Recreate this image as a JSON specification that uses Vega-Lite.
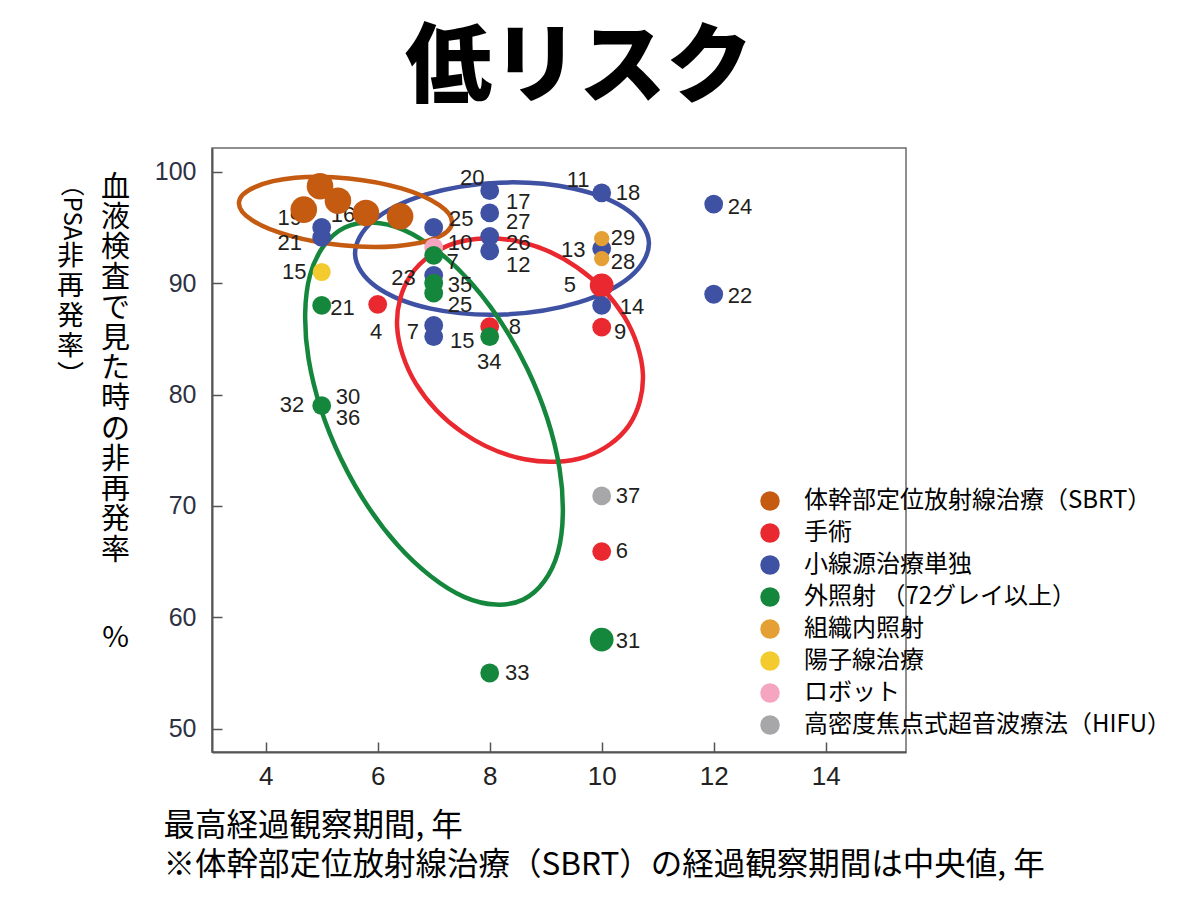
{
  "$schema": "https://vega.github.io/schema/vega-lite/v6.json",
  "width": 694,
  "height": 604,
  "autosize": "none",
  "padding": {"left": 212, "top": 148, "right": 287, "bottom": 172},
  "background": "white",
  "config": {
    "view": {"stroke": "#6b6b6b", "strokeWidth": 1.5},
    "font": "Noto Sans CJK JP"
  },
  "title": {
    "text": "低リスク",
    "font": "Noto Sans CJK JP",
    "fontSize": 87,
    "fontWeight": 900,
    "color": "#000000",
    "anchor": "middle",
    "frame": "group",
    "dx": 20,
    "dy": 21,
    "offset": 12,
    "baseline": "middle"
  },
  "datasets": {
    "points": [
      {"category": "手術", "x": 6.0, "y": 88.1, "n": 1.5},
      {"category": "手術", "x": 8.0, "y": 86.1, "n": 1.5},
      {"category": "手術", "x": 10.0, "y": 89.8, "n": 2.4},
      {"category": "手術", "x": 10.0, "y": 86.05, "n": 1.5},
      {"category": "手術", "x": 10.0, "y": 65.9, "n": 1.5},
      {"category": "小線源治療単独", "x": 5.0, "y": 95.0, "n": 1.5},
      {"category": "小線源治療単独", "x": 5.0, "y": 94.1, "n": 1.5},
      {"category": "小線源治療単独", "x": 5.8, "y": 96.3, "n": 1.5},
      {"category": "小線源治療単独", "x": 7.0, "y": 95.0, "n": 1.5},
      {"category": "小線源治療単独", "x": 7.0, "y": 90.7, "n": 1.5},
      {"category": "小線源治療単独", "x": 7.0, "y": 86.2, "n": 1.5},
      {"category": "小線源治療単独", "x": 7.0, "y": 85.2, "n": 1.5},
      {"category": "小線源治療単独", "x": 8.0, "y": 98.3, "n": 1.5},
      {"category": "小線源治療単独", "x": 8.0, "y": 96.3, "n": 1.5},
      {"category": "小線源治療単独", "x": 8.0, "y": 94.2, "n": 1.5},
      {"category": "小線源治療単独", "x": 8.0, "y": 92.9, "n": 1.5},
      {"category": "小線源治療単独", "x": 10.0, "y": 98.1, "n": 1.5},
      {"category": "小線源治療単独", "x": 10.0, "y": 93.1, "n": 1.5},
      {"category": "小線源治療単独", "x": 10.0, "y": 88.0, "n": 1.5},
      {"category": "小線源治療単独", "x": 12.0, "y": 97.1, "n": 1.5},
      {"category": "小線源治療単独", "x": 12.0, "y": 89.0, "n": 1.5},
      {"category": "ロボット", "x": 7.0, "y": 93.2, "n": 1.5},
      {"category": "高密度焦点式超音波療法（HIFU）", "x": 10.0, "y": 70.9, "n": 1.5},
      {"category": "陽子線治療", "x": 5.0, "y": 91.0, "n": 1.4},
      {"category": "外照射 （72グレイ以上）", "x": 7.0, "y": 92.5, "n": 1.5},
      {"category": "外照射 （72グレイ以上）", "x": 7.0, "y": 90.0, "n": 1.5},
      {"category": "外照射 （72グレイ以上）", "x": 7.0, "y": 89.1, "n": 1.5},
      {"category": "外照射 （72グレイ以上）", "x": 5.0, "y": 88.0, "n": 1.5},
      {"category": "外照射 （72グレイ以上）", "x": 8.0, "y": 85.2, "n": 1.5},
      {"category": "外照射 （72グレイ以上）", "x": 5.0, "y": 79.0, "n": 1.5},
      {"category": "外照射 （72グレイ以上）", "x": 10.0, "y": 58.0, "n": 2.4},
      {"category": "外照射 （72グレイ以上）", "x": 8.0, "y": 55.0, "n": 1.5},
      {"category": "組織内照射", "x": 10.0, "y": 94.0, "n": 1.0},
      {"category": "組織内照射", "x": 10.0, "y": 92.2, "n": 1.0},
      {"category": "体幹部定位放射線治療（SBRT）", "x": 4.97, "y": 98.7, "n": 3},
      {"category": "体幹部定位放射線治療（SBRT）", "x": 4.68, "y": 96.6, "n": 3},
      {"category": "体幹部定位放射線治療（SBRT）", "x": 5.29, "y": 97.4, "n": 3},
      {"category": "体幹部定位放射線治療（SBRT）", "x": 5.79, "y": 96.3, "n": 3},
      {"category": "体幹部定位放射線治療（SBRT）", "x": 6.40, "y": 96.0, "n": 3}
    ],
    "ellipses": [
      {"group": "小線源治療単独", "i": 0, "x": 10.843, "y": 93.64},
      {"group": "小線源治療単独", "i": 1, "x": 10.514, "y": 90.60},
      {"group": "小線源治療単独", "i": 2, "x": 9.573, "y": 88.25},
      {"group": "小線源治療単独", "i": 3, "x": 8.268, "y": 87.19},
      {"group": "小線源治療単独", "i": 4, "x": 6.948, "y": 87.71},
      {"group": "小線源治療単独", "i": 5, "x": 5.971, "y": 89.69},
      {"group": "小線源治療単独", "i": 6, "x": 5.596, "y": 92.58},
      {"group": "小線源治療単独", "i": 7, "x": 5.925, "y": 95.61},
      {"group": "小線源治療単独", "i": 8, "x": 6.866, "y": 97.96},
      {"group": "小線源治療単独", "i": 9, "x": 8.171, "y": 99.02},
      {"group": "小線源治療単独", "i": 10, "x": 9.491, "y": 98.49},
      {"group": "小線源治療単独", "i": 11, "x": 10.468, "y": 96.53},
      {"group": "手術", "i": 0, "x": 10.484, "y": 77.21},
      {"group": "手術", "i": 1, "x": 9.711, "y": 74.41},
      {"group": "手術", "i": 2, "x": 8.625, "y": 74.19},
      {"group": "手術", "i": 3, "x": 7.516, "y": 76.59},
      {"group": "手術", "i": 4, "x": 6.682, "y": 80.98},
      {"group": "手術", "i": 5, "x": 6.346, "y": 86.17},
      {"group": "手術", "i": 6, "x": 6.598, "y": 90.78},
      {"group": "手術", "i": 7, "x": 7.371, "y": 93.58},
      {"group": "手術", "i": 8, "x": 8.457, "y": 93.80},
      {"group": "手術", "i": 9, "x": 9.566, "y": 91.40},
      {"group": "手術", "i": 10, "x": 10.400, "y": 87.01},
      {"group": "手術", "i": 11, "x": 10.736, "y": 81.82},
      {"group": "外照射", "i": 0, "x": 8.598, "y": 61.59},
      {"group": "外照射", "i": 1, "x": 7.550, "y": 61.81},
      {"group": "外照射", "i": 2, "x": 6.359, "y": 66.46},
      {"group": "外照射", "i": 3, "x": 5.339, "y": 74.28},
      {"group": "外照射", "i": 4, "x": 4.766, "y": 83.18},
      {"group": "外照射", "i": 5, "x": 4.793, "y": 90.75},
      {"group": "外照射", "i": 6, "x": 5.413, "y": 95.00},
      {"group": "外照射", "i": 7, "x": 6.461, "y": 94.78},
      {"group": "外照射", "i": 8, "x": 7.652, "y": 90.13},
      {"group": "外照射", "i": 9, "x": 8.671, "y": 82.31},
      {"group": "外照射", "i": 10, "x": 9.245, "y": 73.41},
      {"group": "外照射", "i": 11, "x": 9.218, "y": 65.83},
      {"group": "SBRT", "i": 0, "x": 7.327, "y": 95.40},
      {"group": "SBRT", "i": 1, "x": 7.043, "y": 94.06},
      {"group": "SBRT", "i": 2, "x": 6.325, "y": 93.32},
      {"group": "SBRT", "i": 3, "x": 5.368, "y": 93.39},
      {"group": "SBRT", "i": 4, "x": 4.425, "y": 94.26},
      {"group": "SBRT", "i": 5, "x": 3.750, "y": 95.67},
      {"group": "SBRT", "i": 6, "x": 3.523, "y": 97.27},
      {"group": "SBRT", "i": 7, "x": 3.807, "y": 98.62},
      {"group": "SBRT", "i": 8, "x": 4.525, "y": 99.45},
      {"group": "SBRT", "i": 9, "x": 5.482, "y": 99.40},
      {"group": "SBRT", "i": 10, "x": 6.425, "y": 98.50},
      {"group": "SBRT", "i": 11, "x": 7.100, "y": 97.00}
    ],
    "labels": [
      {"text": "19", "x": 4.43, "y": 95.84},
      {"text": "21", "x": 4.43, "y": 93.6},
      {"text": "16", "x": 5.38, "y": 96.1},
      {"text": "25", "x": 7.49, "y": 95.74},
      {"text": "10", "x": 7.47, "y": 93.6},
      {"text": "7", "x": 7.34, "y": 91.9},
      {"text": "23", "x": 6.46, "y": 90.46},
      {"text": "35", "x": 7.47, "y": 89.83},
      {"text": "25", "x": 7.47, "y": 88.04},
      {"text": "15", "x": 4.51, "y": 91.0},
      {"text": "21", "x": 5.37, "y": 87.8},
      {"text": "4", "x": 5.97, "y": 85.6},
      {"text": "7", "x": 6.63, "y": 85.6},
      {"text": "15", "x": 7.51, "y": 84.8},
      {"text": "8", "x": 8.45, "y": 86.05},
      {"text": "34", "x": 7.99, "y": 82.9},
      {"text": "32", "x": 4.47, "y": 79.1},
      {"text": "30", "x": 5.47, "y": 79.8},
      {"text": "36", "x": 5.47, "y": 77.9},
      {"text": "20", "x": 7.69, "y": 99.43},
      {"text": "17", "x": 8.51, "y": 97.3},
      {"text": "27", "x": 8.51, "y": 95.5},
      {"text": "26", "x": 8.51, "y": 93.6},
      {"text": "12", "x": 8.51, "y": 91.6},
      {"text": "11", "x": 9.58, "y": 99.25},
      {"text": "18", "x": 10.47, "y": 98.1},
      {"text": "13", "x": 9.49, "y": 92.97},
      {"text": "29", "x": 10.38, "y": 94.05},
      {"text": "28", "x": 10.38, "y": 91.9},
      {"text": "5", "x": 9.43, "y": 89.83},
      {"text": "14", "x": 10.54, "y": 87.85},
      {"text": "9", "x": 10.33, "y": 85.6},
      {"text": "24", "x": 12.47, "y": 96.8},
      {"text": "22", "x": 12.47, "y": 88.83},
      {"text": "37", "x": 10.47, "y": 70.9},
      {"text": "6", "x": 10.36, "y": 65.95},
      {"text": "31", "x": 10.47, "y": 57.9},
      {"text": "33", "x": 8.49, "y": 55.0}
    ]
  },
  "layer": [
    {
      "data": {"name": "ellipses"},
      "mark": {"type": "line", "interpolate": "cardinal-closed", "strokeWidth": 4.5},
      "encoding": {
        "x": {
          "field": "x", "type": "quantitative",
          "scale": {"domain": [3.041, 15.434], "nice": false, "zero": false},
          "axis": {
            "orient": "bottom",
            "values": [4, 6, 8, 10, 12, 14],
            "format": "d",
            "grid": false,
            "domainColor": "#555555", "domainWidth": 2,
            "tickColor": "#555555", "tickWidth": 1.5, "tickSize": -10,
            "labelPadding": 21,
            "labelFont": "Liberation Sans Narrow, Liberation Sans",
            "labelFontSize": 26, "labelColor": "#222222",
            "title": ["最高経過観察期間, 年", "※体幹部定位放射線治療（SBRT）の経過観察期間は中央値, 年"],
            "titleX": -49, "titleY": 58,
            "titleAlign": "left", "titleBaseline": "top",
            "titleFont": "Noto Sans CJK JP", "titleFontSize": 31.5, "titleFontWeight": "normal",
            "titleLineHeight": 39, "titleColor": "#000000"
          }
        },
        "y": {
          "field": "y", "type": "quantitative",
          "scale": {"domain": [47.91, 102.13], "nice": false, "zero": false},
          "axis": {
            "orient": "left",
            "values": [50, 60, 70, 80, 90, 100],
            "grid": false,
            "domainColor": "#555555", "domainWidth": 2,
            "tickColor": "#555555", "tickWidth": 1.5, "tickSize": -10,
            "labelPadding": 26,
            "labelFont": "Liberation Sans", "labelFontSize": 25, "labelColor": "#2d3142",
            "title": ["血", "液", "検", "査", "で", "見", "た", "時", "の", "非", "再", "発", "率"],
            "titleX": -97, "titleY": 25, "titleAngle": 0,
            "titleAlign": "center", "titleBaseline": "top",
            "titleFont": "Noto Sans CJK JP", "titleFontSize": 29, "titleFontWeight": "normal",
            "titleLineHeight": 30.25, "titleColor": "#000000"
          }
        },
        "stroke": {
          "field": "group", "type": "nominal",
          "scale": {
            "domain": ["SBRT", "手術", "小線源治療単独", "外照射"],
            "range": ["#c55a11", "#e9282f", "#3f51a3", "#15873d"]
          },
          "legend": null
        },
        "detail": {"field": "group"},
        "order": {"field": "i", "type": "quantitative"}
      }
    },
    {
      "data": {"name": "points"},
      "transform": [{"filter": "datum.category !== '体幹部定位放射線治療（SBRT）'"}],
      "mark": {"type": "circle", "opacity": 1},
      "encoding": {
        "x": {"field": "x", "type": "quantitative"},
        "y": {
          "field": "y", "type": "quantitative",
          "axis": {
            "orient": "left", "labels": false, "ticks": false, "domain": false, "grid": false,
            "title": "（PSA",
            "titleX": -142, "titleY": 58, "titleAngle": 90,
            "titleAlign": "center", "titleBaseline": "middle",
            "titleFont": "Noto Sans CJK JP", "titleFontSize": 24, "titleFontWeight": "normal",
            "titleColor": "#000000"
          }
        },
        "color": {
          "field": "category", "type": "nominal",
          "scale": {
            "domain": ["体幹部定位放射線治療（SBRT）", "手術", "小線源治療単独", "外照射 （72グレイ以上）", "組織内照射", "陽子線治療", "ロボット", "高密度焦点式超音波療法（HIFU）"],
            "range": ["#c55a11", "#e9282f", "#3f51a3", "#15873d", "#e5a035", "#f3cb2e", "#f5a5bf", "#a7a7aa"]
          },
          "legend": {
            "orient": "none", "legendX": 546, "legendY": 341,
            "title": null, "padding": 0,
            "symbolType": "circle", "symbolSize": 380, "symbolStrokeWidth": 0, "symbolOpacity": 1,
            "labelFont": "Noto Sans CJK JP", "labelFontSize": 24, "labelColor": "#000000",
            "labelOffset": 22, "rowPadding": 8, "labelLimit": 600
          }
        },
        "size": {
          "field": "n", "type": "quantitative",
          "scale": {"domain": [0, 3], "range": [0, 707]},
          "legend": null
        }
      }
    },
    {
      "data": {"name": "labels"},
      "mark": {"type": "text", "font": "Liberation Sans", "fontSize": 22, "color": "#231f20", "align": "center", "baseline": "middle"},
      "encoding": {
        "x": {"field": "x", "type": "quantitative"},
        "y": {
          "field": "y", "type": "quantitative",
          "axis": {
            "orient": "left", "labels": false, "ticks": false, "domain": false, "grid": false,
            "title": ["非", "再", "発", "率", "︶"],
            "titleX": -142, "titleY": 95, "titleAngle": 0,
            "titleAlign": "center", "titleBaseline": "top",
            "titleFont": "Noto Sans CJK JP", "titleFontSize": 27, "titleFontWeight": "normal",
            "titleLineHeight": 30, "titleColor": "#000000"
          }
        },
        "text": {"field": "text"}
      }
    },
    {
      "data": {"name": "points"},
      "transform": [{"filter": "datum.category === '体幹部定位放射線治療（SBRT）'"}],
      "mark": {"type": "circle", "opacity": 1},
      "encoding": {
        "x": {"field": "x", "type": "quantitative"},
        "y": {
          "field": "y", "type": "quantitative",
          "axis": {
            "orient": "left", "labels": false, "ticks": false, "domain": false, "grid": false,
            "title": "%",
            "titleX": -97, "titleY": 489, "titleAngle": 0,
            "titleAlign": "center", "titleBaseline": "middle",
            "titleFont": "Noto Sans CJK JP", "titleFontSize": 29, "titleFontWeight": "normal",
            "titleColor": "#000000"
          }
        },
        "color": {"field": "category", "type": "nominal"},
        "size": {"field": "n", "type": "quantitative", "legend": null}
      }
    }
  ],
  "resolve": {"axis": {"y": "independent"}}
}
